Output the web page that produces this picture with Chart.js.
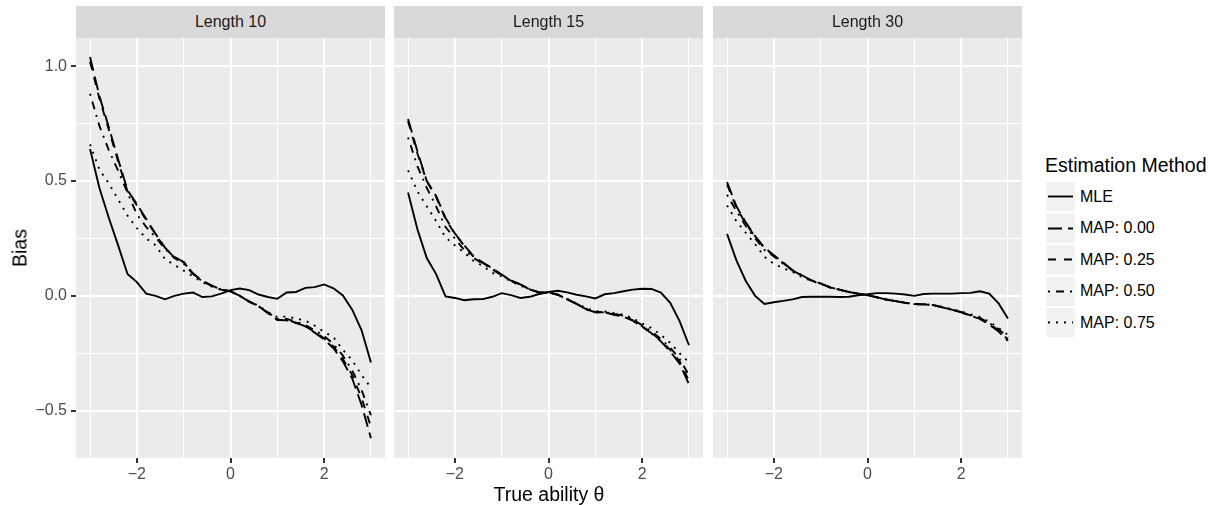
<!DOCTYPE html>
<html>
<head>
<meta charset="utf-8">
<script src="https://cdn.jsdelivr.net/npm/chart.js@4.4.1/dist/chart.umd.min.js"></script>
<style>
  body { margin: 0; background: #fff; font-family: 'Liberation Sans', Arial, sans-serif; }
  #fig { position: relative; width: 1212px; height: 505px; overflow: hidden; background: #fff; }
  #fig canvas { position: absolute; top: 0; }
  .strip { position: absolute; top: 6px; height: 32px; background: #d9d9d9; color: #1a1a1a;
           font-size: 16px; line-height: 32px; text-align: center; }
  .axtitle { position: absolute; font-size: 19.5px; color: #000; white-space: nowrap;
             transform: translate(-50%, -50%); }
  .key { position: absolute; left: 1046px; width: 29px; height: 29px; background: #f2f2f2; }
  .keylab { position: absolute; left: 1080px; font-size: 16px; line-height: 20px; color: #000; white-space: nowrap; }
</style>
</head>
<body>
<div id="fig">
  <canvas id="p1" width="385" height="505" style="left:0px"></canvas>
  <canvas id="p2" width="309" height="505" style="left:394px"></canvas>
  <canvas id="p3" width="309" height="505" style="left:713px"></canvas>
  <div class="axtitle" style="left:20px; top:248px; transform: translate(-50%, -50%) rotate(-90deg);">Bias</div>
  <div class="axtitle" style="left:549px; top:494px;">True ability θ</div>
  <div class="axtitle" style="left:1045px; top:165px; transform: translate(0, -50%);">Estimation Method</div>
</div>
<script>
// true ability grid
var theta = [-3, -2.8, -2.6, -2.4, -2.2, -2, -1.8, -1.6, -1.4, -1.2, -1, -0.8, -0.6, -0.4, -0.2,
             0, 0.2, 0.4, 0.6, 0.8, 1, 1.2, 1.4, 1.6, 1.8, 2, 2.2, 2.4, 2.6, 2.8, 3];

var methods = ['MLE', 'MAP: 0.00', 'MAP: 0.25', 'MAP: 0.50', 'MAP: 0.75'];
var panelTitles = ['Length 10', 'Length 15', 'Length 30'];
var xTicks = [-3, -2, -1, 0, 1, 2, 3];
var yTicks = [-0.5, -0.25, 0, 0.25, 0.5, 0.75, 1.0];

// Length 10
var len10_mle    = [0.64, 0.47, 0.34, 0.22, 0.095, 0.06, 0.01, 0.0, -0.015, 0.0, 0.01, 0.015, -0.005, -0.002, 0.01, 0.025, 0.032, 0.025, 0.006, -0.005, -0.013, 0.015, 0.017, 0.035, 0.038, 0.05, 0.033, 0.002, -0.06, -0.15, -0.29];
var len10_map000 = [1.04, 0.87, 0.735, 0.595, 0.46, 0.40, 0.335, 0.27, 0.21, 0.17, 0.148, 0.097, 0.065, 0.045, 0.027, 0.02, 0.0, -0.025, -0.045, -0.075, -0.105, -0.106, -0.118, -0.133, -0.16, -0.19, -0.228, -0.285, -0.36, -0.475, -0.62];
var len10_map025 = [1.02, 0.86, 0.725, 0.585, 0.455, 0.395, 0.33, 0.268, 0.208, 0.168, 0.146, 0.097, 0.065, 0.045, 0.027, 0.02, 0.0, -0.025, -0.045, -0.075, -0.104, -0.105, -0.117, -0.132, -0.157, -0.185, -0.22, -0.275, -0.345, -0.445, -0.57];
var len10_map050 = [0.88, 0.74, 0.635, 0.545, 0.45, 0.355, 0.30, 0.255, 0.205, 0.165, 0.14, 0.095, 0.063, 0.044, 0.027, 0.02, 0.0, -0.025, -0.045, -0.073, -0.10, -0.10, -0.112, -0.127, -0.15, -0.175, -0.21, -0.26, -0.325, -0.41, -0.52];
var len10_map075 = [0.66, 0.55, 0.49, 0.42, 0.35, 0.295, 0.25, 0.22, 0.16, 0.135, 0.11, 0.085, 0.06, 0.04, 0.027, 0.02, 0.0, -0.024, -0.043, -0.07, -0.092, -0.09, -0.098, -0.108, -0.13, -0.157, -0.18, -0.235, -0.28, -0.345, -0.40];

// Length 15
var len15_mle    = [0.45, 0.29, 0.165, 0.095, -0.002, -0.009, -0.019, -0.015, -0.014, -0.004, 0.012, 0.003, -0.009, -0.004, 0.008, 0.017, 0.022, 0.015, 0.005, -0.002, -0.011, 0.007, 0.012, 0.02, 0.027, 0.031, 0.03, 0.014, -0.03, -0.11, -0.215];
var len15_map000 = [0.77, 0.63, 0.50, 0.435, 0.34, 0.272, 0.22, 0.172, 0.145, 0.12, 0.093, 0.066, 0.05, 0.028, 0.015, 0.015, 0.005, -0.015, -0.035, -0.058, -0.072, -0.072, -0.082, -0.09, -0.108, -0.135, -0.163, -0.198, -0.242, -0.295, -0.385];
var len15_map025 = [0.76, 0.62, 0.50, 0.43, 0.335, 0.27, 0.218, 0.17, 0.143, 0.118, 0.092, 0.066, 0.05, 0.028, 0.015, 0.015, 0.005, -0.015, -0.035, -0.058, -0.071, -0.072, -0.08, -0.088, -0.106, -0.132, -0.16, -0.195, -0.235, -0.285, -0.37];
var len15_map050 = [0.69, 0.565, 0.47, 0.39, 0.30, 0.25, 0.20, 0.165, 0.14, 0.115, 0.09, 0.065, 0.05, 0.028, 0.015, 0.015, 0.005, -0.015, -0.035, -0.056, -0.07, -0.07, -0.078, -0.086, -0.103, -0.128, -0.155, -0.188, -0.225, -0.275, -0.345];
var len15_map075 = [0.547, 0.455, 0.39, 0.325, 0.255, 0.22, 0.188, 0.152, 0.13, 0.10, 0.085, 0.063, 0.045, 0.028, 0.015, 0.015, 0.005, -0.013, -0.033, -0.053, -0.067, -0.068, -0.075, -0.082, -0.098, -0.12, -0.14, -0.17, -0.205, -0.25, -0.29];

// Length 30
var len30_mle    = [0.27, 0.155, 0.065, 0.0, -0.035, -0.028, -0.022, -0.015, -0.005, -0.004, -0.004, -0.004, -0.005, -0.004, 0.003, 0.007, 0.012, 0.012, 0.01, 0.006, 0.0, 0.008, 0.01, 0.01, 0.01, 0.012, 0.013, 0.02, 0.01, -0.033, -0.098];
var len30_map000 = [0.496, 0.39, 0.32, 0.26, 0.21, 0.177, 0.145, 0.112, 0.09, 0.068, 0.054, 0.037, 0.027, 0.017, 0.01, 0.003, -0.006, -0.016, -0.023, -0.03, -0.036, -0.037, -0.04, -0.05, -0.06, -0.072, -0.086, -0.1, -0.125, -0.155, -0.196];
var len30_map025 = [0.485, 0.385, 0.315, 0.257, 0.208, 0.175, 0.143, 0.11, 0.089, 0.067, 0.053, 0.037, 0.027, 0.017, 0.01, 0.003, -0.006, -0.016, -0.023, -0.03, -0.036, -0.037, -0.04, -0.05, -0.06, -0.072, -0.085, -0.098, -0.122, -0.15, -0.19];
var len30_map050 = [0.44, 0.37, 0.305, 0.25, 0.20, 0.172, 0.14, 0.11, 0.088, 0.067, 0.053, 0.037, 0.027, 0.017, 0.01, 0.003, -0.006, -0.016, -0.023, -0.03, -0.036, -0.037, -0.04, -0.05, -0.06, -0.07, -0.083, -0.096, -0.118, -0.145, -0.18];
var len30_map075 = [0.394, 0.325, 0.275, 0.225, 0.17, 0.14, 0.12, 0.105, 0.082, 0.065, 0.052, 0.036, 0.027, 0.017, 0.01, 0.003, -0.006, -0.016, -0.023, -0.03, -0.035, -0.036, -0.04, -0.048, -0.058, -0.068, -0.08, -0.092, -0.113, -0.14, -0.17];

var panelData = [
    [len10_mle, len10_map000, len10_map025, len10_map050, len10_map075],
    [len15_mle, len15_map000, len15_map025, len15_map050, len15_map075],
    [len30_mle, len30_map000, len30_map025, len30_map050, len30_map075]
];

// solid, longdash, dashed, dotdash, dotted
var dashes = [[], [14, 6], [8, 8], [2, 6, 8, 6], [2, 6]];
var lineW = 1.9;

Chart.defaults.font.family = "'Liberation Sans', Arial, sans-serif";

function minus(s) { return s.replace('-', '\u2212'); }
function isMajorX(v) { return Math.abs(v % 2) < 1e-9; }
function isMajorY(v) { return Math.abs(v * 2 - Math.round(v * 2)) < 1e-9; }

const panelBg = {
    id: 'panelBg',
    beforeDraw(chart) {
        const a = chart.chartArea;
        const ctx = chart.ctx;
        ctx.save();
        ctx.fillStyle = '#ebebeb';
        ctx.fillRect(a.left, a.top, a.right - a.left, a.bottom - a.top);
        ctx.restore();
    }
};

function makePanel(id, idx, left, width) {
    var first = idx === 0;
    var datasets = panelData[idx].map(function (vals, k) {
        return {
            label: methods[k],
            data: theta.map(function (t, i) { return { x: t, y: vals[i] }; }),
            borderColor: '#000000',
            backgroundColor: '#000000',
            borderWidth: lineW,
            borderDash: dashes[k],
            pointRadius: 0,
            tension: 0,
            fill: false
        };
    });

    // strip label
    var strip = document.createElement('div');
    strip.className = 'strip';
    strip.style.left = (left + (first ? 76 : 0)) + 'px';
    strip.style.width = (first ? width - 76 : width) + 'px';
    strip.textContent = panelTitles[idx];
    document.getElementById('fig').appendChild(strip);

    return new Chart(document.getElementById(id), {
        type: 'line',
        data: { datasets: datasets },
        options: {
            responsive: false,
            animation: false,
            layout: { padding: { top: 38, left: 0, right: 0, bottom: 0 } },
            plugins: { legend: { display: false }, tooltip: { enabled: false } },
            scales: {
                x: {
                    type: 'linear',
                    min: -3.3,
                    max: 3.3,
                    afterBuildTicks: function (s) { s.ticks = xTicks.map(function (v) { return { value: v }; }); },
                    afterFit: function (s) { s.height = 47; },
                    border: { display: false },
                    grid: {
                        color: '#ffffff',
                        lineWidth: function (c) { return isMajorX(c.tick.value) ? 2 : 1; },
                        tickColor: function (c) { return isMajorX(c.tick.value) ? '#333333' : 'rgba(0,0,0,0)'; },
                        tickWidth: 2,
                        tickLength: 5
                    },
                    ticks: {
                        autoSkip: false,
                        maxRotation: 0,
                        padding: 2,
                        color: '#4d4d4d',
                        font: { size: 16 },
                        callback: function (v) { return isMajorX(v) ? minus(String(v)) : ''; }
                    }
                },
                y: {
                    type: 'linear',
                    min: -0.706,
                    max: 1.123,
                    afterBuildTicks: function (s) { s.ticks = yTicks.map(function (v) { return { value: v }; }); },
                    afterFit: function (s) { s.width = first ? 76 : 0; },
                    border: { display: false },
                    grid: {
                        color: '#ffffff',
                        lineWidth: function (c) { return isMajorY(c.tick.value) ? 2 : 1; },
                        tickColor: function (c) { return isMajorY(c.tick.value) ? '#333333' : 'rgba(0,0,0,0)'; },
                        tickWidth: 2,
                        tickLength: 5,
                        drawTicks: first
                    },
                    ticks: {
                        display: first,
                        autoSkip: false,
                        padding: 4,
                        color: '#4d4d4d',
                        font: { size: 16 },
                        callback: function (v) { return isMajorY(v) ? minus(v.toFixed(1)) : ''; }
                    }
                }
            }
        },
        plugins: [panelBg]
    });
}

makePanel('p1', 0, 0, 385);
makePanel('p2', 1, 394, 309);
makePanel('p3', 2, 713, 309);

// legend
var fig = document.getElementById('fig');
methods.forEach(function (m, k) {
    var cy = 196.75 + k * 31.5;
    var key = document.createElement('div');
    key.className = 'key';
    key.style.top = (cy - 14.5) + 'px';
    var svg = '<svg width="29" height="29" xmlns="http://www.w3.org/2000/svg">' +
        '<line x1="2" y1="14.5" x2="27" y2="14.5" stroke="#000" stroke-width="' + lineW + '"' +
        (dashes[k].length ? ' stroke-dasharray="' + dashes[k].join(',') + '"' : '') + '/></svg>';
    key.innerHTML = svg;
    fig.appendChild(key);

    var lab = document.createElement('div');
    lab.className = 'keylab';
    lab.style.top = (cy - 10) + 'px';
    lab.textContent = m;
    fig.appendChild(lab);
});
</script>
</body>
</html>
